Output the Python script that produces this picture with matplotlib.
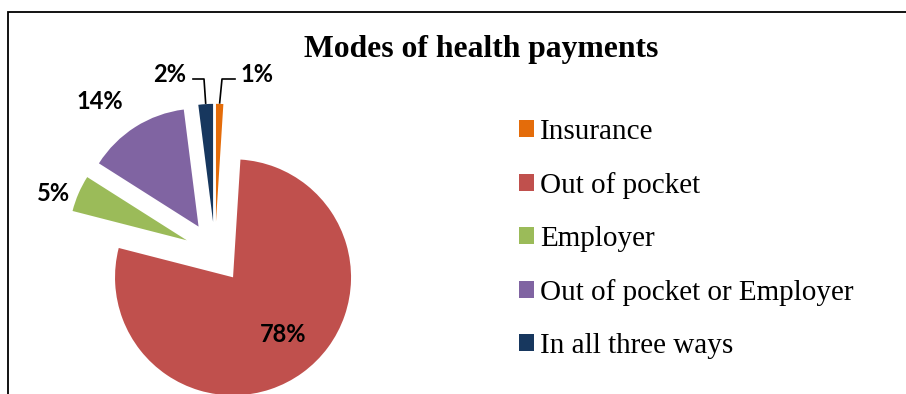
import matplotlib
matplotlib.use("Agg")
import matplotlib.pyplot as plt
from matplotlib.patches import Rectangle
import numpy as np

categories = ["Insurance", "Out of pocket", "Employer", "Out of pocket or Employer", "In all three ways"]
values = [1, 78, 5, 14, 2]
labels = ["1%", "78%", "5%", "14%", "2%"]
colors = ["#E46C0A", "#C0504D", "#9BBB59", "#8064A2", "#17375E"]
title = "Modes of health payments"

W, H = 906, 394
fig = plt.figure(figsize=(W / 100, H / 100), dpi=100)
ax = fig.add_axes([0, 0, 1, 1])

def py(y_img):
    return H - y_img

R = 118
wedges, _ = ax.pie(values, colors=colors, startangle=90, counterclock=False,
                   center=(215, py(252.5)), radius=R, explode=[0.26 * R] * len(values),
                   wedgeprops=dict(linewidth=0))
ax.set_xlim(0, W)
ax.set_ylim(0, H)
ax.set_aspect("auto")
ax.axis("off")

# frame
ax.add_patch(Rectangle((8, -20), W + 20, py(12) + 20, fill=False, edgecolor="black",
                       linewidth=1.3, clip_on=False))

lab_font = dict(family=["Lato", "DejaVu Sans"], fontweight="bold", fontsize=17, color="#000000")
label_pos = {"1%": (257, 74), "78%": (283, 335), "5%": (54, 193), "14%": (100, 101), "2%": (170, 74)}
for lab in labels:
    x, y = label_pos[lab]
    ax.text(x, py(y), lab, ha="center", va="center", **lab_font)

# leader lines for small slices
def outer_mid(w):
    th = np.deg2rad((w.theta1 + w.theta2) / 2)
    cx, cy = w.center
    return cx + w.r * np.cos(th), cy + w.r * np.sin(th)

x2, y2 = outer_mid(wedges[4])
ax.plot([193, 204, x2], [py(79), py(79), y2 + 1], color="black", lw=1.2)
x1, y1 = outer_mid(wedges[0])
ax.plot([235, 222, x1], [py(79), py(79), y1 + 1], color="black", lw=1.2)

ax.text(481, py(49), title, ha="center", va="center", fontsize=22.8,
        fontweight="bold", family="Liberation Serif")

leg = fig.legend(wedges, categories, loc="center left", bbox_to_anchor=(519 / W, py(239) / H),
                 frameon=False, prop=dict(family="Liberation Serif", size=21),
                 handlelength=0.51, handleheight=0.51, handletextpad=0.2,
                 labelspacing=0.93, borderpad=0, borderaxespad=0)

fig.savefig("out.png", dpi=100)
